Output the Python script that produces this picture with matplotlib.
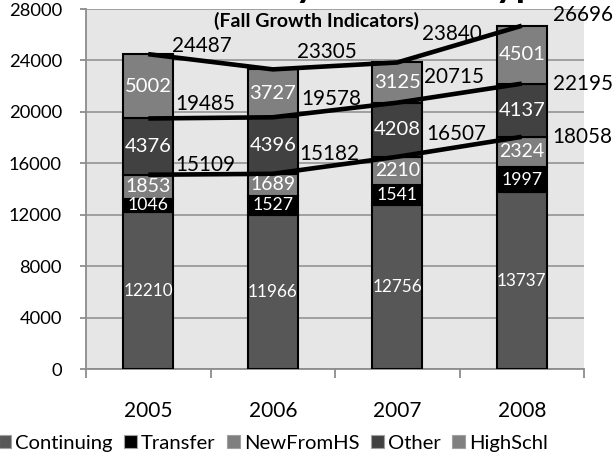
import numpy as np
import matplotlib
matplotlib.use("Agg")
import matplotlib.pyplot as plt
from matplotlib.patches import Patch

plt.rcParams['font.family'] = ['Lato', 'DejaVu Sans']

years = ["2005", "2006", "2007", "2008"]
continuing = [12210, 11966, 12756, 13737]
transfer = [1046, 1527, 1541, 1997]
new_from_hs = [1853, 1689, 2210, 2324]
other = [4376, 4396, 4208, 4137]
high_schl = [5002, 3727, 3125, 4501]
series_names = ["Continuing", "Transfer", "NewFromHS", "Other", "HighSchl"]

# cumulative totals shown as lines
line_low = [15109, 15182, 16507, 18058]
line_mid = [19485, 19578, 20715, 22195]
line_top = [24487, 23305, 23840, 26696]

colors = ['#575757', '#000000', '#7f7f7f', '#414141', '#808080']
seg_fs = [12.3, 12.7, 14.0, 14.5, 14.5]

# label offsets (pixels: right, up)
off_top = [(24, 8), (24, 17), (25, 28), (31, 11)]
off_mid = [(27, 14), (29, 18), (27, 26), (31, 0)]
off_low = [(27, 10), (27, 20), (29, 23), (31, 0)]

W, H = 616, 453
fig = plt.figure(figsize=(W / 100, H / 100), dpi=100)
ax = fig.add_axes([86 / W, 1 - 369 / H, 498 / W, 360 / H])
ax.set_facecolor('#e6e6e6')

x = np.arange(len(years))
ax.set_xlim(-0.5, len(years) - 0.5)
ax.set_ylim(0, 28000)

stack = [continuing, transfer, new_from_hs, other, high_schl]
bottom = np.zeros(len(years))
for vals, col, fs in zip(stack, colors, seg_fs):
    vals = np.array(vals, dtype=float)
    ax.bar(x, vals, 0.4, bottom=bottom, color=col, edgecolor='black',
           linewidth=1.5, zorder=3)
    for xi, b, v in zip(x, bottom, vals):
        ax.text(xi, b + v / 2, f"{int(v)}", ha='center', va='center',
                color='white', fontsize=fs, zorder=6)
    bottom += vals

for vals, offs in [(line_low, off_low), (line_mid, off_mid), (line_top, off_top)]:
    ax.plot(x, vals, color='black', lw=3.3, zorder=5, solid_capstyle='butt')
    for xi, v, (dx, dy) in zip(x, vals, offs):
        ax.annotate(f"{v}", (xi, v), xytext=(dx * 0.72, dy * 0.72),
                    textcoords='offset points', ha='left', va='center',
                    fontsize=14.9, color='black', zorder=7)

ax.set_yticks(np.arange(0, 28001, 4000))
ax.yaxis.grid(True, color='#9a9a9a', lw=1.3)
ax.set_axisbelow(True)
for s in ['top', 'right']:
    ax.spines[s].set_visible(False)
for s in ['left', 'bottom']:
    ax.spines[s].set_color('#8c8c8c')
    ax.spines[s].set_linewidth(1.3)

ax.tick_params(axis='y', length=4.3, width=1.3, color='#8c8c8c', pad=13,
               labelsize=13.2)
ax.set_xticks(x)
ax.set_xticklabels(years)
ax.tick_params(axis='x', which='major', length=0, pad=23, labelsize=15)
ax.set_xticks(np.arange(-0.5, len(years), 1.0), minor=True)
ax.tick_params(axis='x', which='minor', length=6.5, width=1.3, color='#8c8c8c',
               direction='out')

fig.text(316 / W, 1 + 3 / H, "Enrollment by Student Type", ha='center',
         va='baseline', fontsize=28, fontweight='bold')
fig.text(316 / W, 1 - 20.5 / H, "(Fall Growth Indicators)", ha='center',
         va='center', fontsize=14, fontweight='bold')

handles = [Patch(facecolor=c, edgecolor='#a0a0a0', linewidth=0.8) for c in colors]
fig.legend(handles, series_names, loc='lower left', bbox_to_anchor=(-0.004, 0.0),
           ncol=5, frameon=False, fontsize=14.6, handlelength=0.62,
           handleheight=0.62, handletextpad=0.18, columnspacing=0.6,
           borderpad=0.05, borderaxespad=0)

fig.savefig("out.png", dpi=100)
